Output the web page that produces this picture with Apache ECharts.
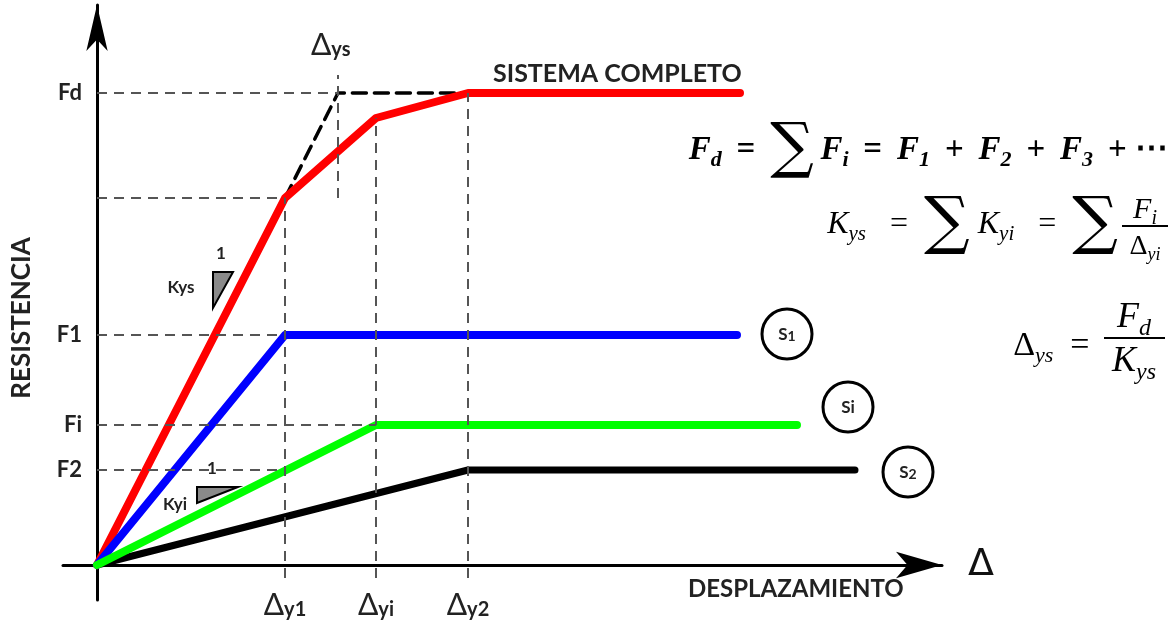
<!DOCTYPE html>
<html>
<head>
<meta charset="utf-8">
<script src="https://cdn.jsdelivr.net/npm/echarts@6/dist/echarts.min.js"></script>
<style>
html, body { margin: 0; padding: 0; background: #fff; }
#chart { width: 1173px; height: 625px; }
</style>
</head>
<body>
<div id="chart"></div>
<script>
// yield displacements (x) and strengths (y)
var yieldLabels = ['Δy1', 'Δyi', 'Δy2'];
var yieldDisp = [188, 279, 371];
var sysYieldDisp = 241; // Δys
var forceLabels = ['Fd', 'F1', 'Fi', 'F2'];
var forceVals = [472, 230, 140, 95];

var redX = [0, 188, 279, 371, 643];
var redY = [0, 367, 447, 472, 472];
var blueX = [0, 188, 640];
var blueY = [0, 230, 230];
var greenX = [0, 279, 700];
var greenY = [0, 140, 140];
var blackX = [0, 371, 758];
var blackY = [0, 95, 95];
var idealX = [188, 241, 371];
var idealY = [367, 472, 472];

function pairs(xs, ys) {
    return xs.map(function (x, i) { return [x, ys[i]]; });
}

var chart = echarts.init(document.getElementById('chart'));

var bold = 'Lato';
var serif = 'Liberation Serif';

var guideLines = [
    [[0, forceVals[0]], [sysYieldDisp, forceVals[0]]],
    [[0, redY[1]], [yieldDisp[0], redY[1]]],
    [[0, forceVals[1]], [yieldDisp[0], forceVals[1]]],
    [[0, forceVals[2]], [yieldDisp[1], forceVals[2]]],
    [[0, forceVals[3]], [yieldDisp[0], forceVals[3]]],
    [[yieldDisp[0], -13], [yieldDisp[0], redY[1]]],
    [[yieldDisp[1], -13], [yieldDisp[1], redY[2]]],
    [[yieldDisp[2], -13], [yieldDisp[2], redY[3]]],
    [[sysYieldDisp, redY[1]], [sysYieldDisp, 490]]
].map(function (p) { return [{coord: p[0]}, {coord: p[1]}]; });

function line(name, data, color, width, type) {
    return {
        name: name,
        type: 'line',
        data: data,
        symbol: 'none',
        silent: true,
        animation: false,
        lineStyle: {color: color, width: width, type: type || 'solid', cap: 'round', join: 'round'}
    };
}

function mathRich(size, bold_, sig) {
    var w = bold_ ? 'bold' : 'normal';
    return {
        f: {fontFamily: serif, fontStyle: 'italic', fontWeight: w, fontSize: size, fill: '#000', verticalAlign: 'middle'},
        u: {fontFamily: serif, fontWeight: w, fontSize: size, fill: '#000', verticalAlign: 'middle'},
        s: {fontFamily: serif, fontStyle: 'italic', fontWeight: w, fontSize: Math.round(size * 0.66), fill: '#000', verticalAlign: 'middle', padding: [Math.round(size * 0.6), 0, 0, 0]},
        o: {fontFamily: serif, fontWeight: w, fontSize: size, fill: '#000', verticalAlign: 'middle'},
        g: {fontFamily: 'DejaVu Serif', fontSize: Math.round(size * (sig || 1.85)), fill: '#000', verticalAlign: 'middle'}
    };
}

var sp = ' \u2009';

option = {
    animation: false,
    backgroundColor: '#fff',
    grid: {left: 63, right: 231, top: 5, bottom: 25, containLabel: false, outerBoundsMode: 'none'},
    xAxis: {
        type: 'value',
        min: -34,
        max: 845,
        name: 'Δ',
        nameLocation: 'end',
        nameGap: 26,
        nameTextStyle: {fontFamily: 'DejaVu Sans', fontSize: 38, color: '#111', padding: [10, 0, 0, 0]},
        axisLine: {onZero: true, symbol: ['none', 'arrow'], symbolSize: [20, 46], lineStyle: {color: '#000', width: 3}},
        axisTick: {show: false},
        splitLine: {show: false},
        axisLabel: {
            customValues: yieldDisp,
            margin: -10,
            formatter: function (v) {
                var l = yieldLabels[yieldDisp.indexOf(v)];
                return '{d|' + l.slice(0, 1) + '}{s|' + l.slice(1) + '}';
            },
            rich: {
                d: {fontFamily: bold, fontSize: 30, color: '#222', verticalAlign: 'bottom'},
                s: {fontFamily: bold, fontWeight: 'bold', fontSize: 20, color: '#222', verticalAlign: 'bottom'}
            }
        }
    },
    yAxis: {
        type: 'value',
        min: -35,
        max: 560,
        axisLine: {onZero: true, symbol: ['none', 'arrow'], symbolSize: [16, 46], lineStyle: {color: '#000', width: 3}},
        axisTick: {show: false},
        splitLine: {show: false},
        axisLabel: {
            customValues: forceVals,
            margin: -19,
            fontFamily: bold,
            fontWeight: 'bold',
            fontSize: 22,
            color: '#222',
            formatter: function (v) { return forceLabels[forceVals.indexOf(v)]; }
        }
    },
    series: [
        {
            name: 'guides',
            type: 'line',
            data: [],
            silent: true,
            markLine: {
                silent: true,
                symbol: 'none',
                label: {show: false},
                lineStyle: {color: '#555', width: 2, type: [10, 7]},
                data: guideLines
            }
        },
        line('S2', pairs(blackX, blackY), '#000', 7),
        line('ideal', pairs(idealX, idealY), '#000', 3.5, [14, 8]),
        line('SISTEMA COMPLETO', pairs(redX, redY), '#ff0000', 8),
        line('S1', pairs(blueX, blueY), '#0000ff', 8),
        line('Si', pairs(greenX, greenY), '#00ff00', 8)
    ],
    graphic: [
        {type: 'text', x: 22, y: 318, rotation: Math.PI / 2, style: {text: 'RESISTENCIA', align: 'center', verticalAlign: 'middle', fontFamily: bold, fontWeight: 'bold', fontSize: 26, fill: '#222'}},
        {type: 'text', left: 493, top: 61, style: {text: 'SISTEMA COMPLETO', fontFamily: bold, fontWeight: 'bold', fontSize: 25, fill: '#222'}},
        {type: 'text', left: 688, top: 577, style: {text: 'DESPLAZAMIENTO', fontFamily: bold, fontWeight: 'bold', fontSize: 24, fill: '#222'}},
        {type: 'text', left: 311, top: 30, style: {
            text: '{d|Δ}{s|ys}',
            rich: {
                d: {fontFamily: bold, fontSize: 30, fill: '#222', verticalAlign: 'bottom'},
                s: {fontFamily: bold, fontWeight: 'bold', fontSize: 20, fill: '#222', verticalAlign: 'bottom'}
            }
        }},
        // slope triangles
        {type: 'polygon', shape: {points: [[213, 272], [233, 272], [213, 308]]}, style: {fill: '#8a8a8a', stroke: '#000', lineWidth: 2}},
        {type: 'text', x: 221, y: 254, style: {text: '1', fontFamily: bold, fontWeight: 'bold', fontSize: 17, fill: '#222', align: 'center', verticalAlign: 'middle'}},
        {type: 'text', x: 181, y: 288, style: {text: 'Kys', fontFamily: bold, fontWeight: 'bold', fontSize: 17, fill: '#222', align: 'center', verticalAlign: 'middle'}},
        {type: 'polygon', shape: {points: [[197, 487], [238, 487], [197, 503]]}, style: {fill: '#8a8a8a', stroke: '#000', lineWidth: 2}},
        {type: 'text', x: 212, y: 469, style: {text: '1', fontFamily: bold, fontWeight: 'bold', fontSize: 17, fill: '#222', align: 'center', verticalAlign: 'middle', backgroundColor: '#fff', padding: [0, 3]}},
        {type: 'text', x: 175, y: 505, style: {text: 'Kyi', fontFamily: bold, fontWeight: 'bold', fontSize: 17, fill: '#222', align: 'center', verticalAlign: 'middle'}},
        // subsystem tags
        {type: 'circle', shape: {cx: 787, cy: 334, r: 25}, style: {fill: '#fff', stroke: '#000', lineWidth: 3}},
        {type: 'text', x: 787, y: 335, style: {text: '{a|S}{b|1}', align: 'center', verticalAlign: 'middle', rich: {a: {fontFamily: bold, fontWeight: 'bold', fontSize: 17, fill: '#222'}, b: {fontFamily: bold, fontWeight: 'bold', fontSize: 14, fill: '#222', verticalAlign: 'bottom'}}}},
        {type: 'circle', shape: {cx: 848, cy: 407, r: 25}, style: {fill: '#fff', stroke: '#000', lineWidth: 3}},
        {type: 'text', x: 848, y: 408, style: {text: 'Si', align: 'center', verticalAlign: 'middle', fontFamily: bold, fontWeight: 'bold', fontSize: 17, fill: '#222'}},
        {type: 'circle', shape: {cx: 908, cy: 472, r: 25}, style: {fill: '#fff', stroke: '#000', lineWidth: 3}},
        {type: 'text', x: 908, y: 473, style: {text: '{a|S}{b|2}', align: 'center', verticalAlign: 'middle', rich: {a: {fontFamily: bold, fontWeight: 'bold', fontSize: 17, fill: '#222'}, b: {fontFamily: bold, fontWeight: 'bold', fontSize: 14, fill: '#222', verticalAlign: 'bottom'}}}},
        // formulas
        {type: 'text', x: 1168, y: 150, style: {
            text: '{f|F}{s|d}{o|' + sp + '=' + sp + '}{g|∑}{o|\u2009}{f|F}{s|i}{o|' + sp + '=' + sp + '}{f|F}{s|1}{o|' + sp + '+' + sp + '}{f|F}{s|2}{o|' + sp + '+' + sp + '}{f|F}{s|3}{o|' + sp + '+ ⋯}',
            align: 'right',
            verticalAlign: 'middle',
            rich: mathRich(33, true)
        }},
        {type: 'text', x: 1118, y: 225, style: {
            text: '{f|K}{s|ys}{o|   =  }{g|∑}{o| }{f|K}{s|yi}{o|   =  }{g|∑}',
            align: 'right',
            verticalAlign: 'middle',
            rich: mathRich(32, false, 2)
        }},
        {type: 'line', shape: {x1: 1122, y1: 226, x2: 1168, y2: 226}, style: {stroke: '#000', lineWidth: 2}},
        {type: 'text', x: 1145, y: 210, style: {
            text: '{f|F}{s|i}', align: 'center', verticalAlign: 'middle', rich: mathRich(30, false)
        }},
        {type: 'text', x: 1145, y: 247, style: {
            text: '{u|Δ}{s|yi}', align: 'center', verticalAlign: 'middle', rich: mathRich(28, false)
        }},
        {type: 'text', x: 1098, y: 346, style: {
            text: '{u|Δ}{s|ys}{o|  = }', align: 'right', verticalAlign: 'middle', rich: mathRich(34, false)
        }},
        {type: 'line', shape: {x1: 1104, y1: 338, x2: 1165, y2: 338}, style: {stroke: '#000', lineWidth: 2}},
        {type: 'text', x: 1134, y: 318, style: {
            text: '{f|F}{s|d}', align: 'center', verticalAlign: 'middle', rich: mathRich(36, false)
        }},
        {type: 'text', x: 1134, y: 362, style: {
            text: '{f|K}{s|ys}', align: 'center', verticalAlign: 'middle', rich: mathRich(36, false)
        }}
    ]
};

chart.setOption(option);
</script>
</body>
</html>
